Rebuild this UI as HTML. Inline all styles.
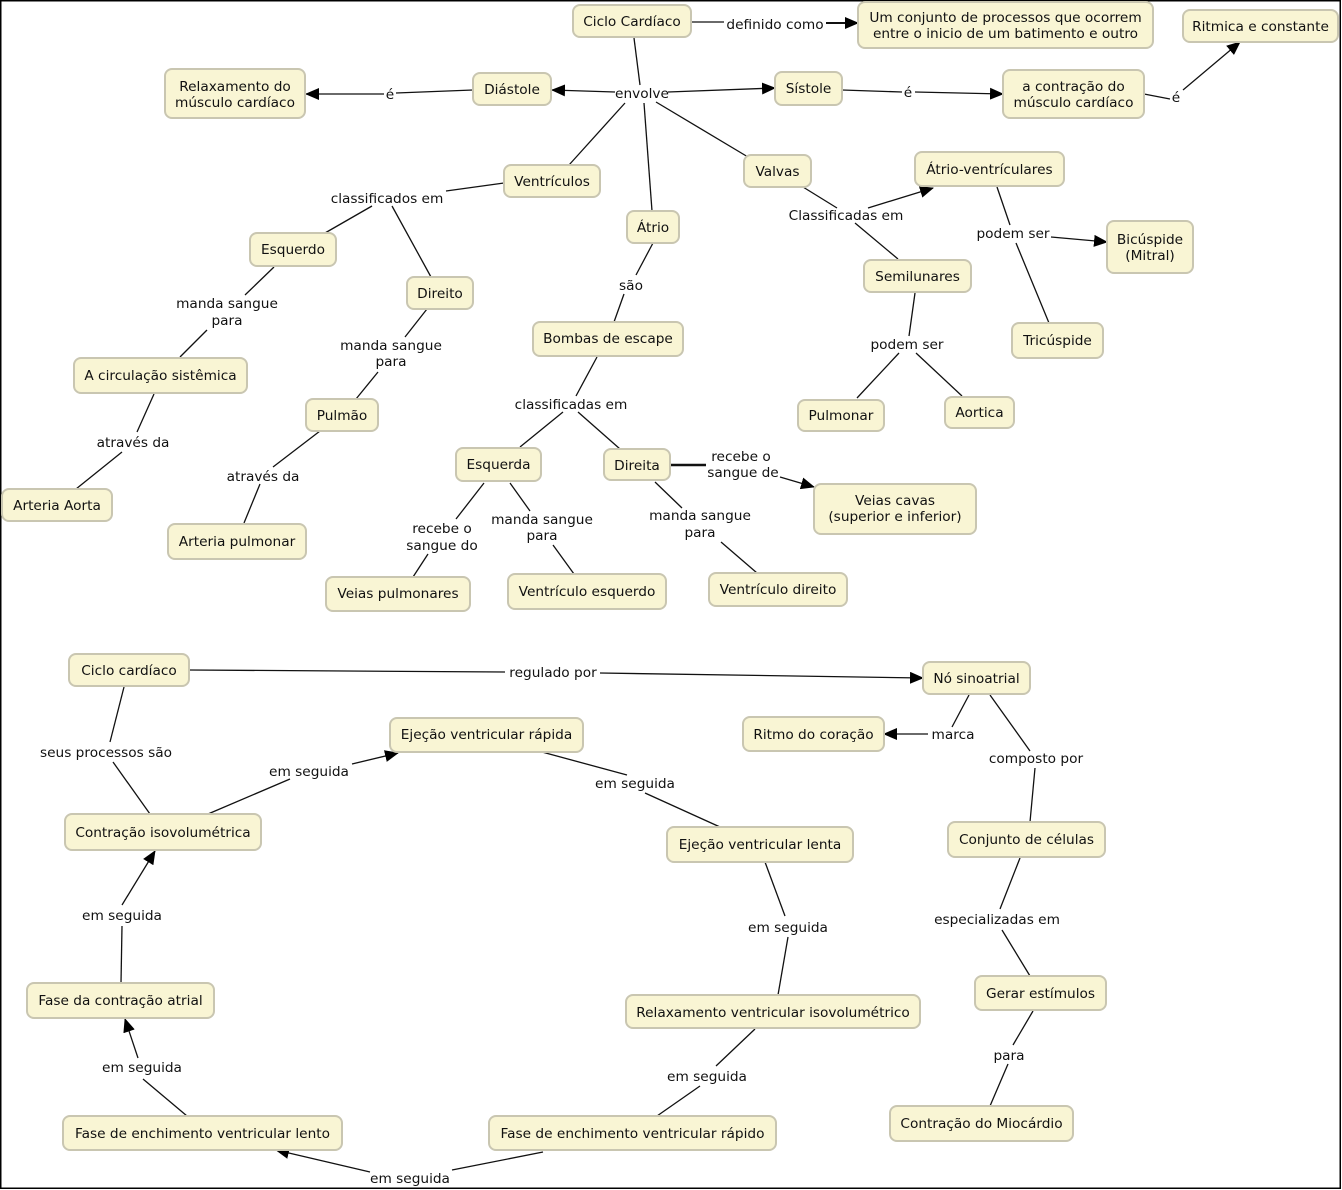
<!DOCTYPE html>
<html><head><meta charset="utf-8"><style>
html,body{margin:0;padding:0;background:#fff;}
svg{display:block;}
text{font-family:"DejaVu Sans","Liberation Sans",sans-serif;font-size:13.7px;fill:#111;}
.n{fill:#f9f5d4;stroke:#c9c6b1;stroke-width:2;}
.l{stroke:#111;stroke-width:1.3;fill:none;}
</style></head><body>
<svg width="1342" height="1190" viewBox="0 0 1342 1190" xmlns="http://www.w3.org/2000/svg">
<defs>
<marker id="a" markerUnits="userSpaceOnUse" markerWidth="14" markerHeight="12" refX="13" refY="6" orient="auto">
<path d="M0,0 L14,6 L0,12 z" fill="#000"/>
</marker>
</defs>
<rect x="0.75" y="0.75" width="1339.5" height="1187.5" fill="#fff" stroke="#000" stroke-width="1.5"/>

<!-- connectors top -->
<g class="l">
<line x1="634" y1="38" x2="640" y2="85"/>
<line x1="615" y1="92" x2="552" y2="90" marker-end="url(#a)"/>
<line x1="668" y1="92" x2="775" y2="88" marker-end="url(#a)"/>
<line x1="625" y1="103" x2="569" y2="165"/>
<line x1="644" y1="103" x2="652" y2="211"/>
<line x1="656" y1="102" x2="748" y2="157"/>
<line x1="691" y1="22" x2="724" y2="22"/>
<line x1="826" y1="23" x2="858" y2="23" marker-end="url(#a)" stroke-width="2"/>
<line x1="473" y1="90" x2="396" y2="93"/>
<line x1="384" y1="94" x2="306" y2="94" marker-end="url(#a)"/>
<line x1="842" y1="90" x2="902" y2="92"/>
<line x1="915" y1="92" x2="1003" y2="94" marker-end="url(#a)"/>
<line x1="1144" y1="94" x2="1170" y2="99"/>
<line x1="1183" y1="90" x2="1240" y2="42" marker-end="url(#a)"/>
<line x1="504" y1="183" x2="446" y2="191"/>
<line x1="372" y1="206" x2="325" y2="233"/>
<line x1="392" y1="206" x2="431" y2="277"/>
<line x1="274" y1="267" x2="245" y2="295"/>
<line x1="207" y1="330" x2="180" y2="357"/>
<line x1="154" y1="394" x2="137" y2="432"/>
<line x1="122" y1="452" x2="76" y2="489"/>
<line x1="427" y1="309" x2="405" y2="337"/>
<line x1="378" y1="372" x2="356" y2="399"/>
<line x1="320" y1="431" x2="273" y2="467"/>
<line x1="260" y1="484" x2="244" y2="523"/>
<line x1="653" y1="243" x2="636" y2="275"/>
<line x1="624" y1="294" x2="614" y2="322"/>
<line x1="597" y1="357" x2="576" y2="396"/>
<line x1="563" y1="412" x2="520" y2="447"/>
<line x1="578" y1="412" x2="620" y2="449"/>
<line x1="484" y1="483" x2="456" y2="519"/>
<line x1="428" y1="554" x2="413" y2="577"/>
<line x1="510" y1="483" x2="530" y2="511"/>
<line x1="553" y1="545" x2="574" y2="574"/>
<line x1="670" y1="465" x2="706" y2="465" stroke-width="2.5"/>
<line x1="780" y1="477" x2="814" y2="487" marker-end="url(#a)"/>
<line x1="655" y1="482" x2="682" y2="508"/>
<line x1="721" y1="542" x2="757" y2="573"/>
<line x1="803" y1="187" x2="837" y2="208"/>
<line x1="868" y1="208" x2="933" y2="188" marker-end="url(#a)"/>
<line x1="855" y1="223" x2="898" y2="259"/>
<line x1="997" y1="187" x2="1010" y2="225"/>
<line x1="1051" y1="237" x2="1107" y2="242" marker-end="url(#a)"/>
<line x1="1016" y1="243" x2="1049" y2="323"/>
<line x1="915" y1="293" x2="909" y2="336"/>
<line x1="899" y1="353" x2="857" y2="398"/>
<line x1="916" y1="353" x2="962" y2="396"/>
</g>

<!-- connectors bottom -->
<g class="l">
<line x1="189" y1="670" x2="505" y2="672"/>
<line x1="600" y1="673" x2="923" y2="678" marker-end="url(#a)"/>
<line x1="124" y1="687" x2="110" y2="742"/>
<line x1="113" y1="762" x2="150" y2="814"/>
<line x1="208" y1="814" x2="290" y2="779"/>
<line x1="352" y1="764" x2="398" y2="753" marker-end="url(#a)"/>
<line x1="542" y1="752" x2="627" y2="775"/>
<line x1="645" y1="793" x2="720" y2="827"/>
<line x1="969" y1="695" x2="952" y2="727"/>
<line x1="928" y1="734" x2="884" y2="734" marker-end="url(#a)"/>
<line x1="990" y1="695" x2="1030" y2="751"/>
<line x1="1035" y1="768" x2="1030" y2="822"/>
<line x1="765" y1="862" x2="785" y2="916"/>
<line x1="788" y1="937" x2="778" y2="995"/>
<line x1="1020" y1="858" x2="1000" y2="909"/>
<line x1="1002" y1="930" x2="1030" y2="976"/>
<line x1="755" y1="1029" x2="716" y2="1066"/>
<line x1="700" y1="1086" x2="657" y2="1116"/>
<line x1="1033" y1="1011" x2="1013" y2="1045"/>
<line x1="1008" y1="1064" x2="990" y2="1106"/>
<line x1="543" y1="1152" x2="452" y2="1170"/>
<line x1="370" y1="1172" x2="276" y2="1150" marker-end="url(#a)"/>
<line x1="187" y1="1116" x2="143" y2="1079"/>
<line x1="138" y1="1058" x2="125" y2="1019" marker-end="url(#a)"/>
<line x1="121" y1="983" x2="122" y2="926"/>
<line x1="122" y1="905" x2="155" y2="851" marker-end="url(#a)"/>
</g>

<!-- nodes top -->
<rect class="n" x="573" y="5" width="118" height="32" rx="7"/>
<text x="632" y="26" text-anchor="middle">Ciclo Cardíaco</text>
<rect class="n" x="858" y="2" width="295" height="46" rx="7"/>
<text x="1005.5" y="22" text-anchor="middle">Um conjunto de processos que ocorrem</text>
<text x="1005.5" y="38" text-anchor="middle">entre o inicio de um batimento e outro</text>
<rect class="n" x="1183" y="10" width="155" height="32" rx="7"/>
<text x="1260.5" y="31" text-anchor="middle">Ritmica e constante</text>
<rect class="n" x="165" y="69" width="140" height="49" rx="7"/>
<text x="235" y="91" text-anchor="middle">Relaxamento do</text>
<text x="235" y="107" text-anchor="middle">músculo cardíaco</text>
<rect class="n" x="473" y="73" width="78" height="32" rx="7"/>
<text x="512" y="94" text-anchor="middle">Diástole</text>
<rect class="n" x="775" y="72" width="67" height="33" rx="7"/>
<text x="808.5" y="93" text-anchor="middle">Sístole</text>
<rect class="n" x="1003" y="70" width="141" height="48" rx="7"/>
<text x="1073.5" y="91" text-anchor="middle">a contração do</text>
<text x="1073.5" y="107" text-anchor="middle">músculo cardíaco</text>
<rect class="n" x="504" y="165" width="96" height="32" rx="7"/>
<text x="552" y="186" text-anchor="middle">Ventrículos</text>
<rect class="n" x="627" y="211" width="52" height="32" rx="7"/>
<text x="653" y="232" text-anchor="middle">Átrio</text>
<rect class="n" x="744" y="155" width="67" height="32" rx="7"/>
<text x="777.5" y="176" text-anchor="middle">Valvas</text>
<rect class="n" x="915" y="152" width="149" height="34" rx="7"/>
<text x="989.5" y="174" text-anchor="middle">Átrio-ventrículares</text>
<rect class="n" x="864" y="260" width="107" height="32" rx="7"/>
<text x="917.5" y="281" text-anchor="middle">Semilunares</text>
<rect class="n" x="1107" y="221" width="86" height="52" rx="7"/>
<text x="1150" y="244" text-anchor="middle">Bicúspide</text>
<text x="1150" y="260" text-anchor="middle">(Mitral)</text>
<rect class="n" x="1012" y="323" width="91" height="35" rx="7"/>
<text x="1057.5" y="345" text-anchor="middle">Tricúspide</text>
<rect class="n" x="798" y="400" width="86" height="31" rx="7"/>
<text x="841" y="420" text-anchor="middle">Pulmonar</text>
<rect class="n" x="945" y="397" width="69" height="31" rx="7"/>
<text x="979.5" y="417" text-anchor="middle">Aortica</text>
<rect class="n" x="250" y="233" width="86" height="33" rx="7"/>
<text x="293" y="254" text-anchor="middle">Esquerdo</text>
<rect class="n" x="407" y="277" width="66" height="32" rx="7"/>
<text x="440" y="298" text-anchor="middle">Direito</text>
<rect class="n" x="74" y="358" width="173" height="35" rx="7"/>
<text x="160.5" y="380" text-anchor="middle">A circulação sistêmica</text>
<rect class="n" x="306" y="399" width="72" height="32" rx="7"/>
<text x="342" y="420" text-anchor="middle">Pulmão</text>
<rect class="n" x="2" y="489" width="110" height="32" rx="7"/>
<text x="57" y="510" text-anchor="middle">Arteria Aorta</text>
<rect class="n" x="168" y="524" width="138" height="35" rx="7"/>
<text x="237" y="546" text-anchor="middle">Arteria pulmonar</text>
<rect class="n" x="326" y="577" width="144" height="34" rx="7"/>
<text x="398" y="598" text-anchor="middle">Veias pulmonares</text>
<rect class="n" x="533" y="322" width="150" height="34" rx="7"/>
<text x="608" y="343" text-anchor="middle">Bombas de escape</text>
<rect class="n" x="456" y="448" width="85" height="33" rx="7"/>
<text x="498.5" y="469" text-anchor="middle">Esquerda</text>
<rect class="n" x="604" y="449" width="66" height="31" rx="7"/>
<text x="637" y="470" text-anchor="middle">Direita</text>
<rect class="n" x="814" y="484" width="162" height="50" rx="7"/>
<text x="895" y="505" text-anchor="middle">Veias cavas</text>
<text x="895" y="521" text-anchor="middle">(superior e inferior)</text>
<rect class="n" x="508" y="574" width="158" height="35" rx="7"/>
<text x="587" y="596" text-anchor="middle">Ventrículo esquerdo</text>
<rect class="n" x="709" y="573" width="138" height="33" rx="7"/>
<text x="778" y="594" text-anchor="middle">Ventrículo direito</text>

<!-- nodes bottom -->
<rect class="n" x="69" y="654" width="120" height="32" rx="7"/>
<text x="129" y="675" text-anchor="middle">Ciclo cardíaco</text>
<rect class="n" x="390" y="718" width="193" height="34" rx="7"/>
<text x="486.5" y="739" text-anchor="middle">Ejeção ventricular rápida</text>
<rect class="n" x="65" y="814" width="196" height="36" rx="7"/>
<text x="163" y="837" text-anchor="middle">Contração isovolumétrica</text>
<rect class="n" x="923" y="662" width="107" height="32" rx="7"/>
<text x="976.5" y="683" text-anchor="middle">Nó sinoatrial</text>
<rect class="n" x="743" y="717" width="141" height="34" rx="7"/>
<text x="813.5" y="739" text-anchor="middle">Ritmo do coração</text>
<rect class="n" x="667" y="827" width="186" height="35" rx="7"/>
<text x="760" y="849" text-anchor="middle">Ejeção ventricular lenta</text>
<rect class="n" x="948" y="822" width="157" height="35" rx="7"/>
<text x="1026.5" y="844" text-anchor="middle">Conjunto de células</text>
<rect class="n" x="27" y="983" width="187" height="35" rx="7"/>
<text x="120.5" y="1005" text-anchor="middle">Fase da contração atrial</text>
<rect class="n" x="626" y="995" width="294" height="33" rx="7"/>
<text x="773" y="1017" text-anchor="middle">Relaxamento ventricular isovolumétrico</text>
<rect class="n" x="975" y="976" width="131" height="34" rx="7"/>
<text x="1040.5" y="998" text-anchor="middle">Gerar estímulos</text>
<rect class="n" x="63" y="1116" width="279" height="34" rx="7"/>
<text x="202.5" y="1138" text-anchor="middle">Fase de enchimento ventricular lento</text>
<rect class="n" x="489" y="1116" width="287" height="34" rx="7"/>
<text x="632.5" y="1138" text-anchor="middle">Fase de enchimento ventricular rápido</text>
<rect class="n" x="890" y="1106" width="183" height="35" rx="7"/>
<text x="981.5" y="1128" text-anchor="middle">Contração do Miocárdio</text>

<!-- labels top -->
<text x="775" y="29" text-anchor="middle">definido como</text>
<text x="642" y="98" text-anchor="middle">envolve</text>
<text x="390" y="99" text-anchor="middle">é</text>
<text x="908" y="97" text-anchor="middle">é</text>
<text x="1176" y="102" text-anchor="middle">é</text>
<text x="387" y="203" text-anchor="middle">classificados em</text>
<text x="631" y="290" text-anchor="middle">são</text>
<text x="846" y="220" text-anchor="middle">Classificadas em</text>
<text x="1013" y="238" text-anchor="middle">podem ser</text>
<text x="907" y="349" text-anchor="middle">podem ser</text>
<text x="227" y="308" text-anchor="middle">manda sangue</text>
<text x="227" y="325" text-anchor="middle">para</text>
<text x="391" y="350" text-anchor="middle">manda sangue</text>
<text x="391" y="366" text-anchor="middle">para</text>
<text x="133" y="447" text-anchor="middle">através da</text>
<text x="263" y="481" text-anchor="middle">através da</text>
<text x="571" y="409" text-anchor="middle">classificadas em</text>
<text x="741" y="461" text-anchor="middle">recebe o</text>
<text x="743" y="477" text-anchor="middle">sangue de</text>
<text x="442" y="533" text-anchor="middle">recebe o</text>
<text x="442" y="550" text-anchor="middle">sangue do</text>
<text x="542" y="524" text-anchor="middle">manda sangue</text>
<text x="542" y="540" text-anchor="middle">para</text>
<text x="700" y="520" text-anchor="middle">manda sangue</text>
<text x="700" y="537" text-anchor="middle">para</text>

<!-- labels bottom -->
<text x="553" y="677" text-anchor="middle">regulado por</text>
<text x="106" y="757" text-anchor="middle">seus processos são</text>
<text x="309" y="776" text-anchor="middle">em seguida</text>
<text x="635" y="788" text-anchor="middle">em seguida</text>
<text x="953" y="739" text-anchor="middle">marca</text>
<text x="1036" y="763" text-anchor="middle">composto por</text>
<text x="122" y="920" text-anchor="middle">em seguida</text>
<text x="788" y="932" text-anchor="middle">em seguida</text>
<text x="997" y="924" text-anchor="middle">especializadas em</text>
<text x="142" y="1072" text-anchor="middle">em seguida</text>
<text x="707" y="1081" text-anchor="middle">em seguida</text>
<text x="1009" y="1060" text-anchor="middle">para</text>
<text x="410" y="1183" text-anchor="middle">em seguida</text>
</svg>
</body></html>
